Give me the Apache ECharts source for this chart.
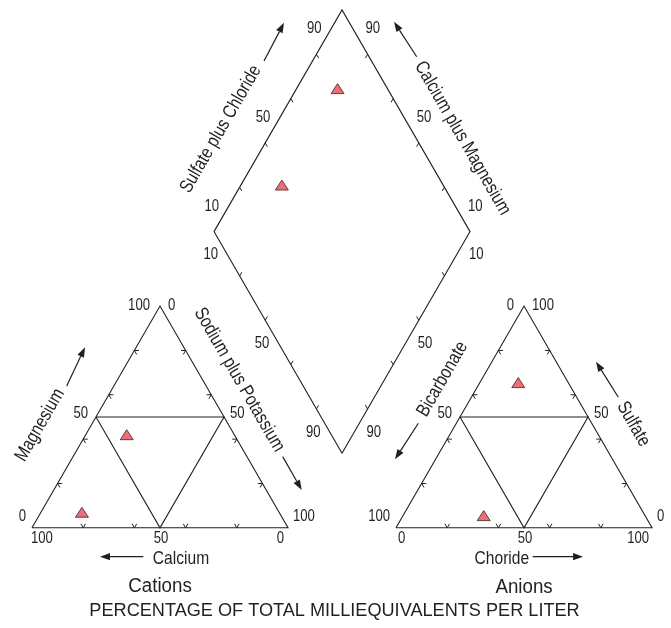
<!DOCTYPE html>
<html><head><meta charset="utf-8">
<script src="https://cdn.jsdelivr.net/npm/echarts@6/dist/echarts.min.js"></script>
<style>html,body{margin:0;padding:0;background:#fff}#c{width:671px;height:628px}</style>
</head><body><div id="c"></div>
<script>
// ---------------- data (percent of total milliequivalents per liter) ----------------
const samples = ['Sample 1', 'Sample 2'];
const magnesium = [42, 7];
const sodiumPotassium = [16, 16];
const sulfate = [65.5, 5.5];
const chloride = [15, 31.5];
const triangleTicks = [20, 40, 60, 80];
const triangleTickLabels = [0, 50, 100];
const diamondTicks = [20, 40, 60, 80];
const diamondTickLabels = [10, 50, 90];

// ---------------- geometry (units: side of each triangle = 100) ----------------
const H = Math.sqrt(3) / 2;
const PX = 2.56;                 // pixels per unit
const ORIGIN = [32, 527.8];      // pixel position of the cation triangle's lower-left corner
const W = 671, HT = 628;
const ANION_X = 142.2;           // x of anion triangle's lower-left corner
const D0 = [121.1, 29.1];        // diamond bottom vertex
const U1 = [-0.5, H], U2 = [0.5, H];
const INK = '#231f20';
const FONT = "'Liberation Sans',Arial,sans-serif";

const add = (a, b, k) => [a[0] + b[0] * (k === undefined ? 1 : k), a[1] + b[1] * (k === undefined ? 1 : k)];

// sample positions from the ternary values
const cationPts = samples.map((s, i) => [sodiumPotassium[i] + magnesium[i] / 2, H * magnesium[i]]);
const anionPts = samples.map((s, i) => [ANION_X + chloride[i] + sulfate[i] / 2, H * sulfate[i]]);
const diamondPts = samples.map((s, i) => {
  const a = sulfate[i] + chloride[i];
  const c = 100 - sodiumPotassium[i];
  return [D0[0] + 0.5 * (a - c), D0[1] + H * (a + c)];
});

function renderFrame(params, api) {
  const P = u => api.coord(u);
  const kids = [];
  const poly = (pts) => kids.push({ type: 'polyline', shape: { points: pts.map(P) },
    style: { stroke: INK, lineWidth: 1.1, fill: null } });
  const seg = (p0, p1, w) => kids.push({ type: 'line', shape: { x1: p0[0], y1: p0[1], x2: p1[0], y2: p1[1] },
    style: { stroke: INK, lineWidth: w || 1 } });
  const stub = (u, d, len) => seg(P(u), P(add(u, d, len)), 1);
  const text = (str, p, opt) => {
    opt = opt || {};
    kids.push({ type: 'text', x: p[0], y: p[1], rotation: opt.rot || 0,
      scaleX: opt.sx === undefined ? 0.82 : opt.sx, scaleY: 1,
      style: { text: String(str), fill: INK, font: (opt.size || 16) + 'px ' + FONT,
        textAlign: opt.align || 'center', textVerticalAlign: 'middle',
        align: opt.align || 'center', verticalAlign: 'middle' } });
  };
  const at = (u, off) => { const p = P(u); return [p[0] + off[0], p[1] + off[1]]; };
  const arrow = (anchor, o0, o1) => {
    const a = at(anchor, o0), b = at(anchor, o1);
    const dx = b[0] - a[0], dy = b[1] - a[1], L = Math.hypot(dx, dy);
    const ux = dx / L, uy = dy / L, hl = 10, hw = 3.6;
    const base = [b[0] - ux * hl, b[1] - uy * hl];
    seg(a, base, 1.2);
    kids.push({ type: 'polygon', shape: { points: [b, [base[0] - uy * hw, base[1] + ux * hw], [base[0] + uy * hw, base[1] - ux * hw]] },
      style: { fill: INK, stroke: null } });
  };

  // ---- two ternary triangles ----
  [0, ANION_X].forEach(x0 => {
    const A = [x0, 0], B = [x0 + 100, 0], C = [x0 + 50, 100 * H];
    poly([A, B, C, A]);
    const lm = [x0 + 25, 50 * H], rm = [x0 + 75, 50 * H], bm = [x0 + 50, 0];
    poly([lm, rm, bm, lm]);
    triangleTicks.forEach(t => {
      const bp = [x0 + t, 0];
      stub(bp, U1, 1.8); stub(bp, U2, 1.8);
      const lp = [x0 + t / 2, H * t];
      stub(lp, [1, 0], 1.8); stub(lp, [0.5, -H], 1.8);
      const rp = [x0 + 100 - t / 2, H * t];
      stub(rp, [-1, 0], 1.8); stub(rp, [-0.5, -H], 1.8);
    });
  });

  // ---- triangle tick labels ----
  const leftOff = { 0: [-6, -11], 50: [-8, -3], 100: [-10, -1] };   // keyed by % height
  const rightOff = { 0: [5, -11], 50: [6, -3], 100: [8, -1] };
  triangleTickLabels.forEach(v => {
    // cation: Magnesium (left side, 0 bottom -> 100 apex)
    text(v, at([v / 2, H * v], leftOff[v]), { align: 'right' });
    // cation: Sodium plus Potassium (right side, 0 apex -> 100 bottom right)
    text(v, at([50 + v / 2, H * (100 - v)], rightOff[100 - v]), { align: 'left' });
    // cation: Calcium (base, 100 left -> 0 right)
    const cx = 100 - v;
    text(v, at([cx, 0], [cx === 0 ? -1 : (cx === 100 ? -4 : 1), 11]), { align: cx === 0 ? 'left' : (cx === 100 ? 'right' : 'center') });
    // anion: Bicarbonate (left side, 100 bottom -> 0 apex)
    text(v, at([ANION_X + (100 - v) / 2, H * (100 - v)], leftOff[100 - v]), { align: 'right' });
    // anion: Sulfate (right side, 0 bottom right -> 100 apex)
    text(v, at([ANION_X + 100 - v / 2, H * v], rightOff[v]), { align: 'left' });
    // anion: Chloride (base, 0 left -> 100 right)
    text(v, at([ANION_X + v, 0], [v === 0 ? 2 : (v === 100 ? -3 : 1), 11]), { align: v === 0 ? 'left' : (v === 100 ? 'right' : 'center') });
  });

  // ---- diamond ----
  const DL = add(D0, U1, 100), DR = add(D0, U2, 100), DT = add(DL, U2, 100);
  poly([D0, DL, DT, DR, D0]);
  diamondTicks.forEach(t => {
    stub(add(DL, U2, t), [0.5, -H], 1.7);          // upper-left edge
    stub(add(DR, U1, t), [-0.5, -H], 1.7);         // upper-right edge
    stub(add(D0, U1, t), U2, 1.7);                 // lower-left edge
    stub(add(D0, U2, t), U1, 1.7);                 // lower-right edge
  });
  diamondTickLabels.forEach(v => {
    text(v, at(add(DL, U2, v), [-15, -3]), {});               // Sulfate plus Chloride
    text(v, at(add(DR, U1, v), [18, -3]), {});                // Calcium plus Magnesium
    text(v, at(add(D0, U1, 100 - v), [-16, 1]), {});          // Sodium plus Potassium
    text(v, at(add(D0, U2, 100 - v), [19, 1]), {});           // Bicarbonate
  });

  // ---- axis names and arrows ----
  const R60 = Math.PI / 3;
  const cLm = [25, 50 * H], cRm = [75, 50 * H], cBm = [50, 0];
  const aLm = [ANION_X + 25, 50 * H], aRm = [ANION_X + 75, 50 * H], aBm = [ANION_X + 50, 0];
  const dUL = add(DL, U2, 50), dUR = add(DR, U1, 50);
  text('Magnesium', at(cLm, [-56, 8]), { size: 19, rot: R60 });
  arrow(cLm, [-29.3, -31], [-11, -69.7]);
  text('Sodium plus Potassium', at(cRm, [15.2, -37]), { size: 19, rot: -R60 });
  arrow(cRm, [58.7, 39.7], [77.7, 73]);
  text('Calcium', at(cBm, [21, 31.2]), { size: 19 });
  arrow(cBm, [-16.7, 28.9], [-60, 28.9]);
  text('Cations', at(cBm, [0, 59]), { size: 19.5, sx: 0.96 });

  text('Bicarbonate', at(aLm, [-17.5, -37.8]), { size: 19, rot: R60 });
  arrow(aLm, [-41.7, 6.3], [-65, 42.3]);
  text('Sulfate', at(aRm, [45.3, 7.2]), { size: 19, rot: -R60 });
  arrow(aRm, [30.3, -19.7], [8, -55.3]);
  text('Choride', at(aBm, [-22.2, 31]), { size: 19 });
  arrow(aBm, [8.7, 28.9], [59, 28.9]);
  text('Anions', at(aBm, [0, 59.7]), { size: 19.5, sx: 0.96 });

  text('Sulfate plus Chloride', at(dUL, [-57.2, 8.4]), { size: 19, rot: R60 });
  arrow(dUL, [-14, -59.75], [6, -98]);
  text('Calcium plus Magnesium', at(dUR, [56.5, 17.5]), { size: 19, rot: -R60 });
  arrow(dUR, [10.7, -64], [-12, -99]);

  text('PERCENTAGE OF TOTAL MILLIEQUIVALENTS PER LITER', at([D0[0], 0], [-7.5, 83]), { size: 19.2, sx: 0.945 });

  return { type: 'group', children: kids };
}

const chart = echarts.init(document.getElementById('c'), null, { renderer: 'canvas' });
chart.setOption({
  backgroundColor: '#ffffff',
  animation: false,
  grid: { left: 0, right: 0, top: 0, bottom: 0, containLabel: false },
  xAxis: { type: 'value', min: -ORIGIN[0] / PX, max: (W - ORIGIN[0]) / PX, show: false },
  yAxis: { type: 'value', min: -(HT - ORIGIN[1]) / PX, max: ORIGIN[1] / PX, show: false },
  series: [
    { type: 'custom', name: 'frame', coordinateSystem: 'cartesian2d', data: [[0, 0]],
      renderItem: renderFrame, silent: true, clip: false, z: 1 },
    { type: 'scatter', name: 'Cations', data: cationPts, symbol: 'triangle', symbolSize: [13, 10],
      itemStyle: { color: '#ec6f78', borderColor: '#3a2628', borderWidth: 0.8, opacity: 1 }, z: 5, silent: true },
    { type: 'scatter', name: 'Anions', data: anionPts, symbol: 'triangle', symbolSize: [13, 10],
      itemStyle: { color: '#ec6f78', borderColor: '#3a2628', borderWidth: 0.8, opacity: 1 }, z: 5, silent: true },
    { type: 'scatter', name: 'Diamond', data: diamondPts, symbol: 'triangle', symbolSize: [13, 10],
      itemStyle: { color: '#ec6f78', borderColor: '#3a2628', borderWidth: 0.8, opacity: 1 }, z: 5, silent: true }
  ]
});
</script>
</body></html>
